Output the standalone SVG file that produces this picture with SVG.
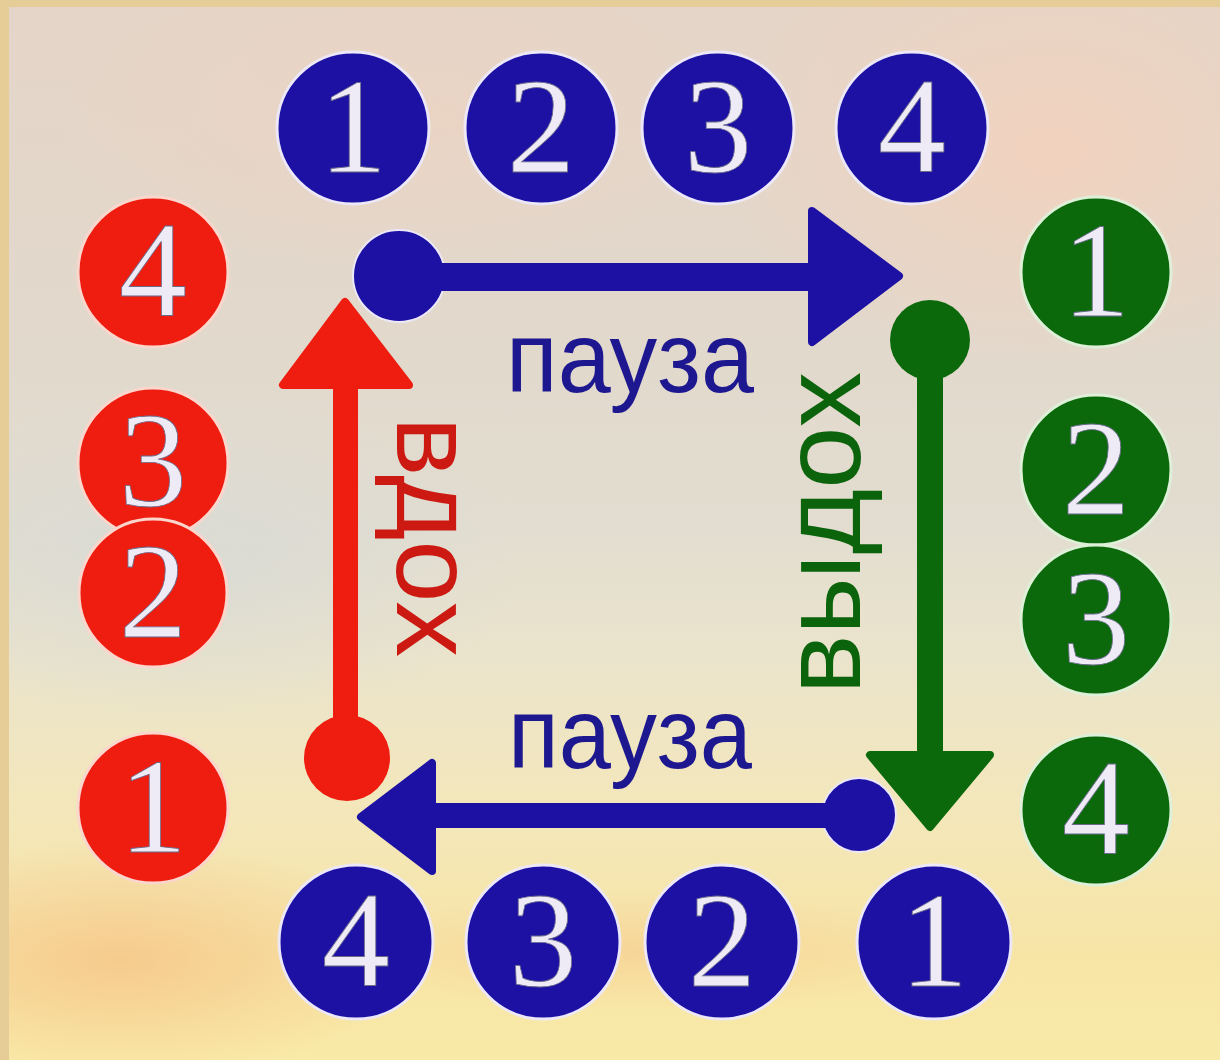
<svg xmlns="http://www.w3.org/2000/svg" width="1220" height="1060" viewBox="0 0 1220 1060">
<defs>
<linearGradient id="bg" x1="0" y1="0" x2="0" y2="1">
<stop offset="0" stop-color="#e5d5c8"/>
<stop offset="0.3" stop-color="#e2d8cc"/>
<stop offset="0.5" stop-color="#e2ddd0"/>
<stop offset="0.62" stop-color="#ebe4cc"/>
<stop offset="0.78" stop-color="#f4e7b8"/>
<stop offset="0.9" stop-color="#f7e5a6"/>
<stop offset="1" stop-color="#f9eaa8"/>
</linearGradient>
<radialGradient id="peach" cx="0.5" cy="0.5" r="0.5">
<stop offset="0" stop-color="#f3d2bd" stop-opacity="0.9"/>
<stop offset="1" stop-color="#f3d2bd" stop-opacity="0"/>
</radialGradient>
<radialGradient id="orange" cx="0.5" cy="0.5" r="0.5">
<stop offset="0" stop-color="#f6c68a" stop-opacity="0.85"/>
<stop offset="1" stop-color="#f6c68a" stop-opacity="0"/>
</radialGradient>
<radialGradient id="grey" cx="0.5" cy="0.5" r="0.5">
<stop offset="0" stop-color="#d8dad6" stop-opacity="0.8"/>
<stop offset="1" stop-color="#d8dad6" stop-opacity="0"/>
</radialGradient>
<style>
.blue{fill:#1d11a4;stroke:#ece8f8;stroke-width:3}
.red{fill:#ef1c10;stroke:#fbd6cc;stroke-width:3}
.green{fill:#0b690c;stroke:#dff0d8;stroke-width:3}
.num{font-family:"Liberation Serif","DejaVu Serif",serif;font-size:136px;fill:#eeebf6;stroke:#6a6a8a;stroke-width:0.8;text-anchor:middle}
.ab{fill:#1d11a4;stroke:#1d11a4;stroke-width:8;stroke-linejoin:round}
.ar{fill:#ef1c10;stroke:#ef1c10;stroke-width:8;stroke-linejoin:round}
.ag{fill:#0b690c;stroke:#0b690c;stroke-width:8;stroke-linejoin:round}
.lbl{font-family:"Liberation Sans","DejaVu Sans",sans-serif;text-anchor:middle}
</style>
</defs>
<rect width="1220" height="1060" fill="url(#bg)"/>
<ellipse cx="1050" cy="150" rx="330" ry="220" fill="url(#peach)"/>
<ellipse cx="400" cy="120" rx="350" ry="150" fill="url(#peach)" opacity="0.5"/>
<ellipse cx="180" cy="560" rx="350" ry="160" fill="url(#grey)"/>
<ellipse cx="120" cy="960" rx="300" ry="120" fill="url(#orange)"/>
<ellipse cx="650" cy="950" rx="320" ry="60" fill="url(#orange)" opacity="0.6"/>
<rect x="0" y="0" width="9" height="1060" fill="#e6cd98"/>
<rect x="0" y="0" width="1220" height="7" fill="#e6cd98"/>

<g id="connectors">
<g id="arrow-top">
<circle cx="399" cy="276" r="46" fill="#1d11a4" stroke="#ece8f8" stroke-width="2"/>
<rect x="399" y="263" width="413" height="28" fill="#1d11a4"/>
<polygon class="ab" points="812,211 899,276 812,342"/>
</g>
<g id="arrow-right">
<circle cx="930" cy="340" r="40" fill="#0b690c"/>
<rect x="917" y="340" width="26" height="415" fill="#0b690c"/>
<polygon class="ag" points="870,755 990,755 930,827"/>
</g>
<g id="arrow-bottom">
<circle cx="859" cy="815" r="37" fill="#1d11a4" stroke="#ece8f8" stroke-width="2"/>
<rect x="430" y="803" width="430" height="25" fill="#1d11a4"/>
<polygon class="ab" points="432,763 432,871 361,817"/>
</g>
<g id="arrow-left">
<rect x="333" y="380" width="25" height="378" fill="#ef1c10"/>
<polygon class="ar" points="345,302 283,385 409,385"/>
<circle cx="347" cy="758" r="43" fill="#ef1c10"/>
</g>
</g>

<g id="labels">
<text class="lbl" x="630" y="392" font-size="100" fill="#1e1890" textLength="248" lengthAdjust="spacingAndGlyphs">пауза</text>
<text class="lbl" x="630" y="768" font-size="100" fill="#1e1890" textLength="244" lengthAdjust="spacingAndGlyphs">пауза</text>
<text class="lbl" font-size="112" fill="#cc1a12" transform="translate(397,537) rotate(90)">вдох</text>
<text class="lbl" font-size="112" fill="#0b640c" transform="translate(860,533) rotate(-90)">выдох</text>
</g>

<g id="top-1"><circle class="blue" cx="353" cy="128" r="76"/><text class="num" x="353" y="172">1</text></g>
<g id="top-2"><circle class="blue" cx="541" cy="128" r="76"/><text class="num" x="541" y="172">2</text></g>
<g id="top-3"><circle class="blue" cx="718" cy="128" r="76"/><text class="num" x="718" y="172">3</text></g>
<g id="top-4"><circle class="blue" cx="912" cy="128" r="76"/><text class="num" x="912" y="172">4</text></g>

<g id="left-4"><circle class="red" cx="153" cy="272" r="75"/><text class="num" x="153" y="316">4</text></g>
<g id="left-3"><circle class="red" cx="153" cy="463" r="75"/><text class="num" x="153" y="506">3</text></g>
<g id="left-2"><circle class="red" cx="153" cy="593" r="74"/><text class="num" x="153" y="637">2</text></g>
<g id="left-1"><circle class="red" cx="153" cy="808" r="75"/><text class="num" x="153" y="852">1</text></g>

<g id="right-1"><circle class="green" cx="1096" cy="272" r="75"/><text class="num" x="1096" y="316">1</text></g>
<g id="right-2"><circle class="green" cx="1096" cy="470" r="75"/><text class="num" x="1096" y="514">2</text></g>
<g id="right-3"><circle class="green" cx="1096" cy="620" r="75"/><text class="num" x="1096" y="664">3</text></g>
<g id="right-4"><circle class="green" cx="1096" cy="810" r="75"/><text class="num" x="1096" y="854">4</text></g>

<g id="bottom-4"><circle class="blue" cx="356" cy="942" r="77"/><text class="num" x="356" y="986">4</text></g>
<g id="bottom-3"><circle class="blue" cx="543" cy="942" r="77"/><text class="num" x="543" y="986">3</text></g>
<g id="bottom-2"><circle class="blue" cx="722" cy="942" r="77"/><text class="num" x="722" y="986">2</text></g>
<g id="bottom-1"><circle class="blue" cx="934" cy="942" r="77"/><text class="num" x="934" y="986">1</text></g>
</svg>
